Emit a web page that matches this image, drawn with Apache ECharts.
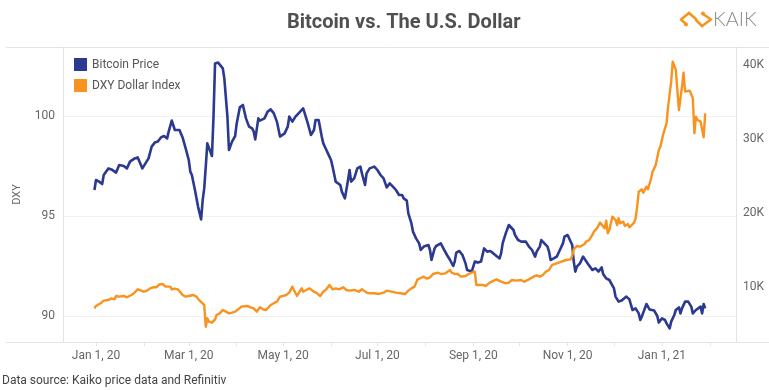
<!DOCTYPE html>
<html>
<head>
<meta charset="utf-8">
<script src="https://cdn.jsdelivr.net/npm/echarts@6.0.0/dist/echarts.min.js"></script>
<style>
html,body{margin:0;padding:0;background:#fff;}
#c{width:769px;height:390px;}
</style>
</head>
<body>
<div id="c"></div>
<script>
// ---- Data ----
// Blue series (plotted on the left "DXY" axis)
const dxyDates = [
'2019-12-31',
'2020-01-01','2020-01-03','2020-01-05','2020-01-06','2020-01-09','2020-01-11','2020-01-14','2020-01-16','2020-01-19','2020-01-21','2020-01-23','2020-01-26','2020-01-28','2020-01-31',
'2020-02-02','2020-02-04','2020-02-06','2020-02-08','2020-02-10','2020-02-12','2020-02-14','2020-02-16','2020-02-17','2020-02-19','2020-02-21','2020-02-22','2020-02-24','2020-02-26','2020-02-28',
'2020-03-01','2020-03-02','2020-03-03','2020-03-05','2020-03-07','2020-03-09','2020-03-10','2020-03-11','2020-03-12','2020-03-13','2020-03-14','2020-03-16','2020-03-17','2020-03-18','2020-03-20','2020-03-23','2020-03-24','2020-03-26','2020-03-27','2020-03-29','2020-03-31',
'2020-04-01','2020-04-03','2020-04-05','2020-04-06','2020-04-07','2020-04-09','2020-04-11','2020-04-12','2020-04-13','2020-04-15','2020-04-16','2020-04-19','2020-04-21','2020-04-23','2020-04-25','2020-04-27','2020-04-29',
'2020-05-02','2020-05-04','2020-05-05','2020-05-07','2020-05-09','2020-05-10','2020-05-11','2020-05-14','2020-05-15','2020-05-17','2020-05-19','2020-05-21','2020-05-22','2020-05-24','2020-05-26','2020-05-27','2020-05-29','2020-05-30',
'2020-06-01','2020-06-02','2020-06-04','2020-06-05','2020-06-07','2020-06-08','2020-06-10','2020-06-12','2020-06-13','2020-06-14','2020-06-16','2020-06-18','2020-06-20','2020-06-21','2020-06-23','2020-06-24','2020-06-26','2020-06-29',
'2020-07-01','2020-07-03','2020-07-05','2020-07-07','2020-07-09','2020-07-11','2020-07-13','2020-07-15','2020-07-17','2020-07-18','2020-07-20','2020-07-21','2020-07-23','2020-07-24','2020-07-26','2020-07-28','2020-07-29','2020-07-31',
'2020-08-01','2020-08-03','2020-08-04','2020-08-05','2020-08-07','2020-08-08','2020-08-11','2020-08-13','2020-08-15','2020-08-17','2020-08-19','2020-08-20','2020-08-21','2020-08-23','2020-08-25','2020-08-27','2020-08-28','2020-08-31',
'2020-09-01','2020-09-02','2020-09-04','2020-09-06','2020-09-08','2020-09-10','2020-09-12','2020-09-14','2020-09-16','2020-09-18','2020-09-19','2020-09-20','2020-09-22','2020-09-24','2020-09-25','2020-09-27','2020-09-28','2020-09-30',
'2020-10-02','2020-10-03','2020-10-05','2020-10-07','2020-10-09','2020-10-11','2020-10-12','2020-10-14','2020-10-15','2020-10-17','2020-10-19','2020-10-20','2020-10-21','2020-10-23','2020-10-25','2020-10-27','2020-10-29','2020-10-30',
'2020-11-01','2020-11-02','2020-11-04','2020-11-05','2020-11-06','2020-11-07','2020-11-09','2020-11-11','2020-11-12','2020-11-14','2020-11-15','2020-11-17','2020-11-19','2020-11-21','2020-11-23','2020-11-24','2020-11-26','2020-11-28','2020-11-29',
'2020-12-01','2020-12-02','2020-12-04','2020-12-06','2020-12-07','2020-12-09','2020-12-11','2020-12-12','2020-12-13','2020-12-15','2020-12-17','2020-12-18','2020-12-19','2020-12-20','2020-12-22','2020-12-24','2020-12-25','2020-12-27','2020-12-29','2020-12-30',
'2021-01-01','2021-01-03','2021-01-04','2021-01-06','2021-01-07','2021-01-09','2021-01-10','2021-01-12','2021-01-13','2021-01-14','2021-01-16','2021-01-18','2021-01-20','2021-01-21','2021-01-23','2021-01-24','2021-01-26','2021-01-27','2021-01-28','2021-01-29'
];
const dxyValues = [
96.30,
96.80,96.72,96.60,97.05,97.38,97.33,97.17,97.55,97.50,97.38,97.72,97.88,97.93,97.38,
97.63,97.88,98.47,98.67,98.72,98.93,99.00,98.88,99.22,99.77,99.30,99.27,99.30,98.93,98.38,
97.80,97.22,97.05,96.30,95.47,94.83,95.80,96.38,97.47,98.63,98.55,98.00,99.97,102.63,102.67,102.38,101.88,99.97,98.30,98.72,99.00,
99.63,100.43,100.55,100.63,99.88,99.47,99.38,99.22,98.83,99.88,99.77,99.88,100.22,100.33,100.13,99.72,98.97,
99.13,99.47,99.97,99.72,99.97,99.88,100.13,100.38,100.13,99.63,99.05,99.30,99.80,99.80,98.97,98.63,98.30,98.13,
97.80,97.47,96.72,96.80,96.55,96.22,95.88,96.80,97.30,96.72,96.88,97.38,97.47,97.13,96.55,97.13,97.38,97.47,
97.30,97.05,96.88,96.43,96.63,96.47,96.30,96.05,96.05,95.88,95.77,95.13,94.63,94.22,93.88,93.63,93.30,93.47,
93.38,93.55,93.30,92.80,93.38,93.50,93.63,93.33,93.05,92.80,92.50,92.72,93.17,93.25,93.05,92.63,92.30,92.22,
92.47,92.72,92.67,92.72,93.38,93.22,93.25,93.13,93.00,92.88,93.13,93.63,94.13,94.55,94.60,94.30,94.05,93.80,
93.72,93.63,93.72,93.47,93.30,92.97,93.22,93.47,93.80,93.63,93.47,93.22,92.80,92.88,92.97,93.30,93.63,93.97,
94.05,94.05,93.55,92.72,92.22,92.47,92.63,92.97,92.88,92.63,92.55,92.30,92.38,92.22,92.43,92.10,91.88,91.80,91.88,
91.38,90.97,90.72,90.77,90.83,90.97,90.83,90.55,90.30,90.38,90.13,89.80,89.97,89.97,90.60,90.33,90.33,90.27,90.00,89.67,
89.88,89.80,89.63,89.38,89.72,90.05,90.30,90.43,90.13,90.38,90.72,90.72,90.47,90.13,90.30,90.33,90.47,90.13,90.60,90.38
];

// Orange series (plotted on the right axis, thousands of USD)
const btcDates = [
'2019-12-31',
'2020-01-01','2020-01-04','2020-01-06','2020-01-07','2020-01-09','2020-01-11','2020-01-13','2020-01-14','2020-01-16','2020-01-19','2020-01-21','2020-01-22','2020-01-24','2020-01-26','2020-01-28','2020-01-29',
'2020-02-01','2020-02-03','2020-02-05','2020-02-07','2020-02-09','2020-02-11','2020-02-13','2020-02-15','2020-02-16','2020-02-18','2020-02-19','2020-02-21','2020-02-23','2020-02-24','2020-02-26','2020-02-28',
'2020-03-01','2020-03-02','2020-03-04','2020-03-06','2020-03-08','2020-03-09','2020-03-11','2020-03-12','2020-03-13','2020-03-14','2020-03-16','2020-03-18','2020-03-19','2020-03-21','2020-03-23','2020-03-25','2020-03-27','2020-03-29','2020-03-31',
'2020-04-02','2020-04-04','2020-04-06','2020-04-08','2020-04-10','2020-04-12','2020-04-14','2020-04-16','2020-04-18','2020-04-20','2020-04-23','2020-04-25','2020-04-27','2020-04-29',
'2020-05-01','2020-05-03','2020-05-05','2020-05-07','2020-05-08','2020-05-10','2020-05-11','2020-05-13','2020-05-14','2020-05-16','2020-05-18','2020-05-21','2020-05-23','2020-05-25','2020-05-27','2020-05-29','2020-05-31',
'2020-06-02','2020-06-04','2020-06-06','2020-06-09','2020-06-11','2020-06-13','2020-06-16','2020-06-19','2020-06-21','2020-06-24','2020-06-26','2020-06-29',
'2020-07-02','2020-07-05','2020-07-07','2020-07-10','2020-07-13','2020-07-16','2020-07-19','2020-07-21','2020-07-23','2020-07-25','2020-07-27','2020-07-29','2020-07-31',
'2020-08-02','2020-08-04','2020-08-06','2020-08-07','2020-08-09','2020-08-11','2020-08-12','2020-08-14','2020-08-15','2020-08-17','2020-08-18','2020-08-20','2020-08-22','2020-08-24','2020-08-27','2020-08-29','2020-08-31',
'2020-09-02','2020-09-03','2020-09-04','2020-09-07','2020-09-09','2020-09-11','2020-09-13','2020-09-16','2020-09-19','2020-09-22','2020-09-24','2020-09-26','2020-09-29',
'2020-10-02','2020-10-04','2020-10-07','2020-10-10','2020-10-12','2020-10-14','2020-10-16','2020-10-18','2020-10-20','2020-10-22','2020-10-23','2020-10-25','2020-10-28','2020-10-31',
'2020-11-03','2020-11-04','2020-11-05','2020-11-07','2020-11-09','2020-11-10','2020-11-12','2020-11-13','2020-11-15','2020-11-17','2020-11-18','2020-11-20','2020-11-22','2020-11-23','2020-11-25','2020-11-26','2020-11-27','2020-11-28','2020-11-30',
'2020-12-02','2020-12-03','2020-12-04','2020-12-05','2020-12-07','2020-12-08','2020-12-10','2020-12-11','2020-12-14','2020-12-15','2020-12-16','2020-12-17','2020-12-19','2020-12-20','2020-12-22','2020-12-23','2020-12-25','2020-12-26','2020-12-28','2020-12-30','2020-12-31',
'2021-01-02','2021-01-04','2021-01-05','2021-01-07','2021-01-08','2021-01-10','2021-01-11','2021-01-12','2021-01-14','2021-01-15','2021-01-16','2021-01-17','2021-01-19','2021-01-21','2021-01-22','2021-01-23','2021-01-24','2021-01-26','2021-01-27','2021-01-28','2021-01-29'
];
const btcValues = [
7.12,
7.44,7.80,8.16,8.02,8.25,8.47,8.34,8.79,8.70,8.79,8.61,8.47,8.92,9.24,9.69,9.60,
9.37,9.51,9.82,9.96,9.96,10.36,10.41,10.05,9.96,10.05,9.69,9.78,9.69,9.60,8.92,8.70,
8.79,8.79,8.92,8.70,8.16,8.02,7.57,4.64,5.77,5.32,5.18,5.63,6.22,6.44,6.90,6.67,6.44,6.53,6.67,
6.99,7.35,7.40,7.44,7.26,7.12,6.67,7.26,6.99,6.90,7.57,7.80,8.02,8.70,
8.79,8.92,9.24,10.05,9.60,8.79,9.15,9.82,9.37,9.60,9.82,9.37,9.15,8.79,9.37,9.69,10.27,
9.69,9.82,9.69,9.96,9.60,9.51,9.60,9.37,9.69,9.24,9.15,9.15,
9.06,9.24,9.51,9.37,9.24,9.15,9.06,9.51,9.82,10.05,11.04,11.22,11.40,
11.13,11.31,11.76,11.63,11.94,11.76,11.49,11.85,11.94,12.30,11.94,11.76,11.76,11.40,11.49,11.76,11.94,
12.08,10.27,10.41,10.27,10.14,10.50,10.72,11.04,10.72,10.50,10.59,10.95,10.86,
10.95,10.72,11.04,11.40,11.58,11.40,11.63,12.08,12.30,12.98,13.20,13.20,13.43,13.65,
13.74,14.19,15.10,15.54,15.45,15.23,15.81,16.13,16.36,17.03,17.48,17.93,18.70,18.52,17.93,18.97,17.26,17.71,19.51,
19.06,18.38,19.28,18.61,18.83,18.25,18.52,18.07,18.70,19.28,20.86,22.89,23.20,22.75,23.56,23.20,24.69,25.59,26.49,28.52,28.97,
30.77,32.12,34.37,37.75,40.45,39.33,36.63,33.92,37.07,38.97,36.40,36.63,36.54,35.50,30.77,33.02,32.57,32.35,32.57,30.23,33.47
];

const seriesNames = ['Bitcoin Price', 'DXY Dollar Index'];
const xLabelDates = ['2020-01-01','2020-03-01','2020-05-01','2020-07-01','2020-09-01','2020-11-01','2021-01-01'];
const xTickDates = ['2020-01-01','2020-02-01','2020-03-01','2020-04-01','2020-05-01','2020-06-01','2020-07-01','2020-08-01','2020-09-01','2020-10-01','2020-11-01','2020-12-01','2021-01-01','2021-02-01'];
const leftTicks = [90, 95, 100];
const rightTicks = [10, 20, 30, 40];

// ---- Chart ----
const toTs = s => Date.UTC(+s.slice(0, 4), +s.slice(5, 7) - 1, +s.slice(8, 10));
const MONTHS = ['Jan','Feb','Mar','Apr','May','Jun','Jul','Aug','Sep','Oct','Nov','Dec'];
const fmtDate = v => { const d = new Date(v); return MONTHS[d.getUTCMonth()] + ' ' + d.getUTCDate() + ', ' + String(d.getUTCFullYear()).slice(2); };
const xMin = Date.UTC(2019, 11, 10, 16);
const xMax = Date.UTC(2021, 1, 17, 22);
const FONT = 'Roboto, "Noto Sans", sans-serif';
const BLUE = '#2b3990';
const ORANGE = '#f7931e';
const FRAME = '#e4e4e4';

const chart = echarts.init(document.getElementById('c'), null, { renderer: 'canvas' });
chart.setOption({
  animation: false,
  backgroundColor: '#ffffff',
  title: {
    text: 'Bitcoin vs. The U.S. Dollar',
    left: 282, top: 8,
    textStyle: { fontFamily: FONT, fontWeight: 'bold', fontSize: 20, color: '#505050' }
  },
  legend: {
    orient: 'vertical', left: 69, top: 53,
    itemWidth: 13, itemHeight: 13, itemGap: 8, icon: 'rect',
    textStyle: { fontFamily: FONT, fontSize: 12, color: '#555' },
    data: seriesNames
  },
  grid: { left: 63, right: 33, top: 47, bottom: 48 },
  xAxis: {
    type: 'value', min: xMin, max: xMax,
    axisLine: { show: false },
    splitLine: { show: false },
    axisTick: { show: true, customValues: xTickDates.map(toTs), length: 4, lineStyle: { color: FRAME } },
    axisLabel: { customValues: xLabelDates.map(toTs), formatter: fmtDate, margin: 8, color: '#666', fontSize: 12, fontFamily: FONT }
  },
  yAxis: [
    {
      type: 'value', position: 'left', min: 88.7, max: 103.45,
      name: 'DXY', nameLocation: 'middle', nameGap: 40, nameRotate: 90,
      nameTextStyle: { fontFamily: FONT, fontSize: 11, color: '#666' },
      axisLine: { show: true, lineStyle: { color: FRAME } },
      axisTick: { show: false, customValues: leftTicks },
      axisLabel: { customValues: leftTicks, margin: 8, color: '#666', fontSize: 12, fontFamily: FONT },
      splitLine: { show: true, lineStyle: { color: '#f0f0f0' } }
    },
    {
      type: 'value', position: 'right', min: 2.57, max: 42.43,
      axisLine: { show: true, lineStyle: { color: FRAME } },
      axisTick: { show: false, customValues: rightTicks },
      axisLabel: { customValues: rightTicks, formatter: v => v + 'K', margin: 7, color: '#666', fontSize: 12, fontFamily: FONT },
      splitLine: { show: false }
    }
  ],
  series: [
    {
      name: seriesNames[0], type: 'line', yAxisIndex: 0, showSymbol: false,
      color: BLUE, lineStyle: { width: 2.6, color: BLUE, join: 'round' },
      data: dxyDates.map((d, i) => [toTs(d), dxyValues[i]])
    },
    {
      name: seriesNames[1], type: 'line', yAxisIndex: 1, showSymbol: false,
      color: ORANGE, lineStyle: { width: 2.4, color: ORANGE, join: 'round' },
      data: btcDates.map((d, i) => [toTs(d), btcValues[i]])
    }
  ],
  graphic: [
    { type: 'line', shape: { x1: 6, y1: 47.5, x2: 769, y2: 47.5 }, style: { stroke: FRAME, lineWidth: 1 }, silent: true },
    { type: 'line', shape: { x1: 6, y1: 342.5, x2: 769, y2: 342.5 }, style: { stroke: FRAME, lineWidth: 1 }, silent: true },
    { type: 'text', left: 2, top: 375, style: { text: 'Data source: Kaiko price data and Refinitiv', fill: '#444', fontSize: 12, fontFamily: FONT } },
    // logo
    { type: 'polyline', shape: { points: [[689, 13], [681, 19.5], [686, 24]] }, style: { stroke: ORANGE, lineWidth: 2.6, fill: null, lineCap: 'round', lineJoin: 'round' }, silent: true },
    { type: 'polyline', shape: { points: [[703, 14], [711, 19.5], [702, 26]] }, style: { stroke: ORANGE, lineWidth: 2.6, fill: null, lineCap: 'round', lineJoin: 'round' }, silent: true },
    { type: 'polyline', shape: { points: [[689, 13], [696, 19]] }, style: { stroke: ORANGE, lineWidth: 2.6, fill: null, lineCap: 'round' }, silent: true },
    { type: 'polyline', shape: { points: [[696, 20], [702, 26]] }, style: { stroke: ORANGE, lineWidth: 2.6, fill: null, lineCap: 'round' }, silent: true },
    { type: 'circle', shape: { cx: 686, cy: 24.5, r: 2 }, style: { fill: ORANGE }, silent: true },
    { type: 'circle', shape: { cx: 703, cy: 13.5, r: 2 }, style: { fill: ORANGE }, silent: true },
    { type: 'text', left: 713, top: 10, style: { text: 'KAIK', fill: '#8a8a8a', fontSize: 20, fontWeight: 300, fontFamily: 'Lato, "Noto Sans", sans-serif' } }
  ]
});
</script>
</body>
</html>
